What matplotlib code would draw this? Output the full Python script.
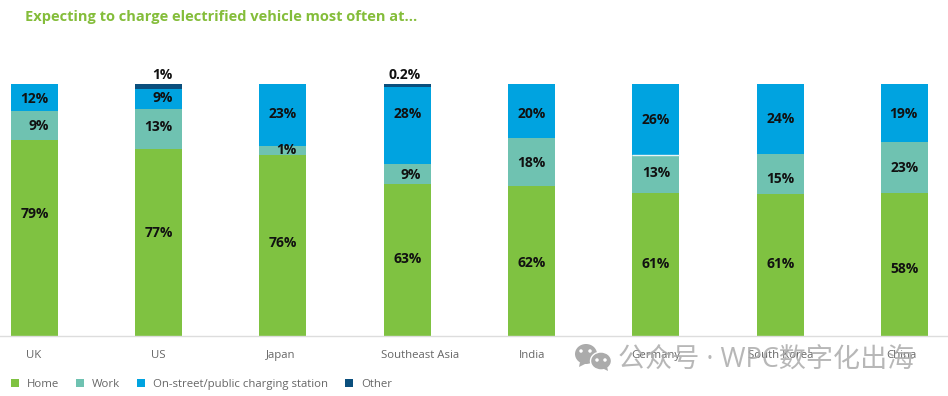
import matplotlib.pyplot as plt
from matplotlib.patches import Ellipse, Polygon
from matplotlib.transforms import ScaledTranslation

plt.rcParams["font.family"] = ["Open Sans", "Noto Sans CJK SC", "DejaVu Sans"]

W, H = 948, 396
BASE_Y, TOP_Y = 336, 84

# Bar shares (the drawn heights differ from the printed labels)
countries = ["UK", "US", "Japan", "Southeast Asia", "India", "Germany", "South Korea", "China"]
home = [77.8, 74.2, 71.8, 60.3, 59.5, 56.7, 56.3, 56.7]
work = [11.5, 15.9, 3.6, 7.9, 19.0, 15.1, 15.9, 20.3]
street = [10.7, 7.9, 24.6, 30.8, 21.5, 28.2, 27.8, 23.0]
other = [0, 2.0, 0, 1.0, 0, 0, 0, 0]

home_labels = ["79%", "77%", "76%", "63%", "62%", "61%", "61%", "58%"]
work_labels = ["9%", "13%", "1%", "9%", "18%", "13%", "15%", "23%"]
street_labels = ["12%", "9%", "23%", "28%", "20%", "26%", "24%", "19%"]
other_labels = {1: "1%", 3: "0.2%"}

# Label placement in pixels
home_label_y = [214, 233, 243, 259, 263, 264, 264, 269]
work_label_y = [126, 127, 150, 175, 163, 173, 179, 168]
street_label_y = [99, 98, 114, 114, 114, 120, 119, 114]
work_label_dx = [4, 0, 3, 3, 0, 0, 0, 0]
street_label_dx = [0, 4, 0, 0, 0, 0, 0, -1]
other_label_dx = {1: 4, 3: -3}
tick_dx = [-1, 0, -2, 13, 0, 0, 0, -3]

colors = ["#7FC241", "#6FC2B1", "#00A3E0", "#0B4F7D"]
names = ["Home", "Work", "On-street/public charging station", "Other"]

fig = plt.figure(figsize=(W / 100, H / 100), dpi=100)
ax = fig.add_axes([0, (H - BASE_Y) / H, 1, (BASE_Y - TOP_Y) / H])

spacing = 124.3
x = list(range(len(countries)))
ax.set_xlim(-34.4 / spacing, (W - 34.4) / spacing)
ax.set_ylim(0, 100)
ax.patch.set_alpha(0)

bottom = [0] * len(x)
bars = []
for vals, c in zip([home, work, street, other], colors):
    b = ax.bar(x, vals, bottom=bottom, width=47 / spacing, color=c, linewidth=0)
    bars.append(b)
    bottom = [p + q for p, q in zip(bottom, vals)]

# thin white gap visible on the Germany bar
g = countries.index("Germany")
ax.hlines(home[g] + work[g], g - 23.5 / spacing, g + 23.5 / spacing, color="#E8F4F4", lw=1)


def py(y):
    return (BASE_Y - y) / (BASE_Y - TOP_Y) * 100


def put(i, y, s, dx=0):
    ax.text(i + dx / spacing, py(y), s, ha="center", va="center", fontsize=10,
            fontweight="bold", color="#111111", clip_on=False)


for i in x:
    put(i, home_label_y[i], home_labels[i])
    put(i, work_label_y[i], work_labels[i], work_label_dx[i])
    put(i, street_label_y[i], street_labels[i], street_label_dx[i])
for i, s in other_labels.items():
    put(i, 75, s, other_label_dx[i])

for s in ["top", "left", "right"]:
    ax.spines[s].set_visible(False)
ax.spines["bottom"].set_color("#DDDDDD")
ax.spines["bottom"].set_linewidth(1)
ax.set_yticks([])
ax.set_xticks(x)
ax.set_xticklabels(countries, fontsize=8.2, color="#666666")
ax.tick_params(axis="x", length=0, pad=10)
for lab, dx in zip(ax.get_xticklabels(), tick_dx):
    lab.set_transform(lab.get_transform() + ScaledTranslation(dx / 100, 0, fig.dpi_scale_trans))

fig.text(25 / W, 1 - 16.5 / H, "Expecting to charge electrified vehicle most often at...",
         fontsize=10.5, fontweight="bold", color="#84BD3A", va="center")

fig.legend([b[0] for b in bars], names, loc="lower left", bbox_to_anchor=(0.5 / W, -4 / H),
           ncol=4, frameon=False, fontsize=8.2, labelcolor="#666666", handlelength=0.7,
           handleheight=0.7, handletextpad=0.7, columnspacing=1.5, borderpad=0.4)

# WeChat watermark over the axis labels
ov = fig.add_axes([0, 0, 1, 1])
ov.set_xlim(0, W)
ov.set_ylim(H, 0)
ov.axis("off")
wm = "#ABABAB"
ov.add_patch(Ellipse((586, 354), 22, 20, color=wm, lw=0))
ov.add_patch(Polygon([[580, 362], [579, 367], [587, 363]], color=wm, lw=0))
ov.add_patch(Ellipse((601, 361), 21, 18, color=wm, ec="white", lw=1))
ov.add_patch(Polygon([[602, 368], [608, 371], [607, 366]], color=wm, lw=0))
for ex, ey in [(581, 351), (590, 351), (597, 360), (605, 360)]:
    ov.add_patch(Ellipse((ex, ey), 3.5, 3.5, color="white", lw=0))
ov.text(618, 361, "公众号 · WPC数字化出海", fontsize=19.5, color=wm, alpha=0.85, va="center", ha="left")

fig.savefig("out.png", dpi=100)
plt.close()
